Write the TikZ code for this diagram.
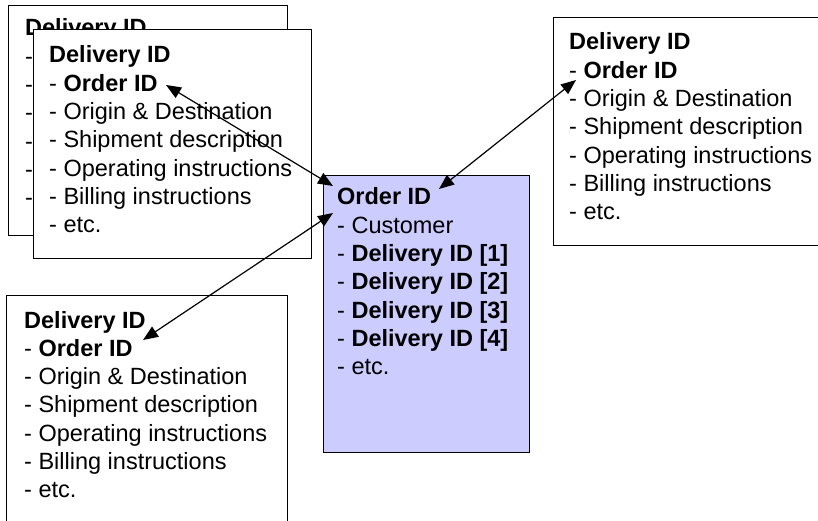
\documentclass[tikz,border=0pt]{standalone}
\usepackage{fontspec}
\setmainfont{Liberation Sans}
\usetikzlibrary{arrows.meta}
\definecolor{lav}{RGB}{204,204,255}
\newcommand\deliverylist{{\textbf{Delivery ID}},{- \textbf{Order ID}},{- Origin \& Destination},{- Shipment description},{- Operating instructions},{- Billing instructions},{- etc.}}
\newcommand\orderlist{{\textbf{Order ID}},{- Customer},{- \textbf{Delivery ID [1]}},{- \textbf{Delivery ID [2]}},{- \textbf{Delivery ID [3]}},{- \textbf{Delivery ID [4]}},{- etc.}}
\begin{document}
\begin{tikzpicture}[x=1pt,y=-1pt,
  box/.style={draw=black, line width=1.2pt, fill=white, inner sep=0pt, anchor=north west},
  ln/.style={anchor=base west, inner sep=0pt, font=\fontsize{23.5}{28}\selectfont},
  link/.style={line width=1.2pt, {Triangle[length=15pt,width=12pt]}-{Triangle[length=15pt,width=12pt]}}]
\useasboundingbox (0,0) rectangle (818,521);
\clip (0,0) rectangle (818,521);
% back box (top-left), mostly hidden behind the front box
\node[box, minimum width=279pt, minimum height=230pt] (back) at (8,5) {};
\node[ln] (back-0) at (25,36) {\textbf{Delivery ID}};
\foreach \i in {1,...,6}
  \node[ln] (back-\i) at (25,{36+28.3*\i}) {-};
% front box (top-left)
\node[box, minimum width=278pt, minimum height=229pt] (front) at (33,29) {};
\foreach \t [count=\i from 0] in \deliverylist
  \node[ln] (front-\i) at (49,{63+28.3*\i}) {\t};
% right box
\node[box, minimum width=280pt, minimum height=228pt] (right) at (553,17) {};
\foreach \t [count=\i from 0] in \deliverylist
  \node[ln] (right-\i) at (569,{50+28.3*\i}) {\t};
% bottom box
\node[box, minimum width=281pt, minimum height=240pt] (bottom) at (6,295) {};
\foreach \t [count=\i from 0] in \deliverylist
  \node[ln] (bottom-\i) at (24,{328+28.3*\i}) {\t};
% center box
\node[box, fill=lav, minimum width=206pt, minimum height=277pt] (center) at (323,175) {};
\foreach \t [count=\i from 0] in \orderlist
  \node[ln] (center-\i) at (337,{205+28.3*\i}) {\t};
% arrow ends
\coordinate (fOrd) at (166,85);
\coordinate (cTL) at (333,186);
\coordinate (cOrdL) at (333,213);
\coordinate (bDel) at (143,340);
\coordinate (cOrdR) at (439,189);
\coordinate (rOrd) at (576,80);
\draw[link] (fOrd) -- (cTL);
\draw[link] (bDel) -- (cOrdL);
\draw[link] (cOrdR) -- (rOrd);
\end{tikzpicture}
\end{document}
